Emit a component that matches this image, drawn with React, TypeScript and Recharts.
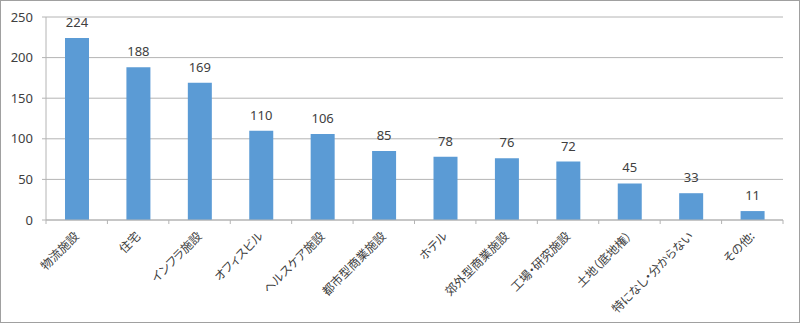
import React from "react";
import { BarChart, Bar, XAxis, YAxis, CartesianGrid, LabelList } from "recharts";

const categories = [
  "物流施設",
  "住宅",
  "インフラ施設",
  "オフィスビル",
  "ヘルスケア施設",
  "都市型商業施設",
  "ホテル",
  "郊外型商業施設",
  "工場・研究施設",
  "土地（底地権）",
  "特になし・分からない",
  "その他:",
];
const counts = [224, 188, 169, 110, 106, 85, 78, 76, 72, 45, 33, 11];
const yTicks = [0, 50, 100, 150, 200, 250];

const data = categories.map((name, i) => ({ name, value: counts[i] }));

const CHART_W = 798;
const CHART_H = 321;
const MARGIN = { top: 16, right: 16, left: 0, bottom: 0 };
const Y_W = 45;
const PLOT_W = CHART_W - MARGIN.left - MARGIN.right - Y_W;
const HALF_BAND = PLOT_W / categories.length / 2;

const GRID = "#B4B4B4";
const TEXT = "#404040";
const NUM_FONT = "'Noto Sans', 'Liberation Sans', sans-serif";
const JP_FONT = "'Noto Sans CJK JP', 'Noto Sans', sans-serif";

const XTick = (props: any) => {
  const { x, y, payload, index } = props;
  return (
    <g transform={`translate(${x},${y})`}>
      <line x1={-HALF_BAND} y1={0} x2={-HALF_BAND} y2={4} stroke={GRID} />
      {index === categories.length - 1 && (
        <line x1={HALF_BAND} y1={0} x2={HALF_BAND} y2={4} stroke={GRID} />
      )}
      <text
        x={0}
        y={0}
        transform="translate(3,17) rotate(-45)"
        textAnchor="end"
        fill={TEXT}
        fontSize={12}
        fontFamily={JP_FONT}
        style={{ fontFeatureSettings: '"palt"' }}
      >
        {payload.value}
      </text>
    </g>
  );
};

export default function App() {
  return (
    <div
      style={{
        position: "absolute",
        left: 0,
        top: 0,
        width: 800,
        height: 323,
        border: "1px solid #A0A0A0",
        boxSizing: "border-box",
        background: "#fff",
      }}
    >
      <BarChart width={CHART_W} height={CHART_H} data={data} margin={MARGIN}>
        <CartesianGrid vertical={false} stroke={GRID} />
        <XAxis
          dataKey="name"
          interval={0}
          height={102}
          tickLine={false}
          tickSize={0}
          tickMargin={0}
          axisLine={{ stroke: GRID }}
          tick={<XTick />}
        />
        <YAxis
          width={Y_W}
          domain={[0, 250]}
          ticks={yTicks}
          interval={0}
          tickSize={4}
          tickMargin={9}
          axisLine={{ stroke: GRID }}
          tickLine={{ stroke: GRID }}
          tick={{ fill: TEXT, fontSize: 13, fontFamily: NUM_FONT }}
        />
        <Bar dataKey="value" fill="#5B9BD5" barSize={24} isAnimationActive={false}>
          <LabelList
            dataKey="value"
            position="top"
            offset={11}
            fill={TEXT}
            fontSize={13}
            fontFamily={NUM_FONT}
          />
        </Bar>
      </BarChart>
    </div>
  );
}
